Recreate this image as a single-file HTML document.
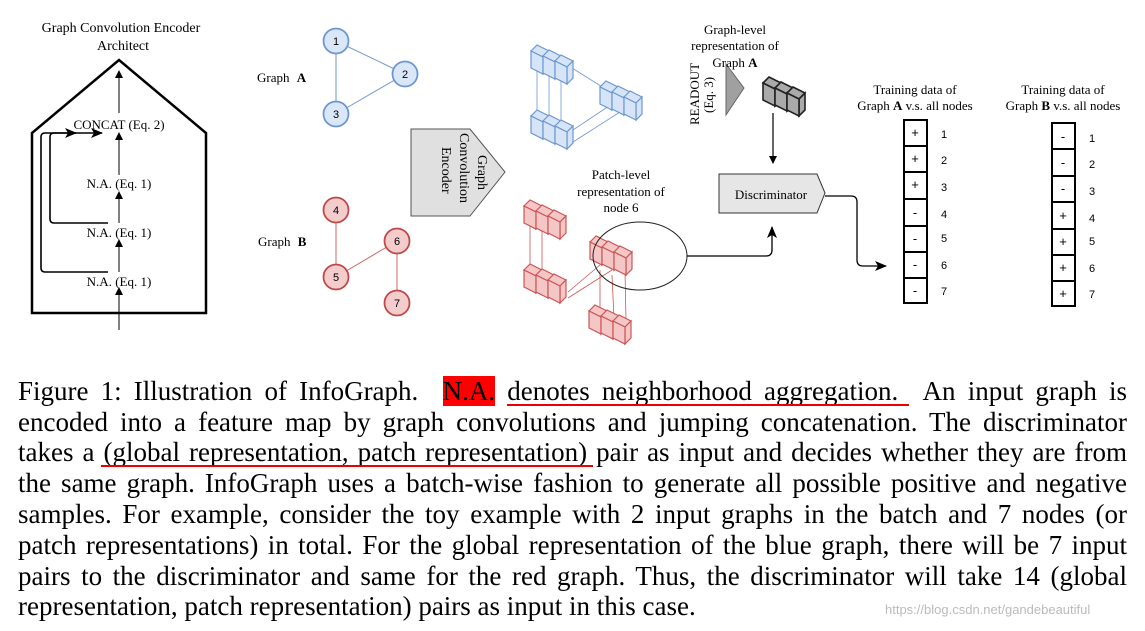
<!DOCTYPE html>
<html><head><meta charset="utf-8"><style>
html,body{margin:0;padding:0;background:#fff;width:1145px;height:631px;overflow:hidden;position:relative}
svg{position:absolute;left:0;top:0}
.cap{position:absolute;left:18px;width:1109px;font-family:"Liberation Serif",serif;font-size:27px;color:#000;text-align:justify;text-align-last:justify;white-space:nowrap;line-height:31px}
.last{text-align-last:left}
.hl{background:#f00}
.ul{position:absolute;height:2px;background:#e00}
.wm{position:absolute;left:885px;top:602px;font-family:"Liberation Sans",sans-serif;font-size:13px;color:#bbb}
</style></head><body>
<svg width="1145" height="631" viewBox="0 0 1145 631" font-family="Liberation Serif, serif">
<defs>
<marker id="ah" markerWidth="8" markerHeight="8" refX="7" refY="4" orient="auto" markerUnits="userSpaceOnUse"><path d="M0,0 L8,4 L0,8 z" fill="#000"/></marker>
<marker id="ah2" markerWidth="12" markerHeight="10" refX="11" refY="5" orient="auto" markerUnits="userSpaceOnUse"><path d="M0,0 L12,5 L0,10 L3,5 z" fill="#000"/></marker>
<g id="cb"><polygon points="0,6 6,0 18,6 12,12"/><polygon points="12,12 18,6 18,23 12,29"/><polygon points="0,6 12,12 12,29 0,23"/></g>
<g id="c3b" fill="#d6e4f7" stroke="#6e97d0" stroke-width="1.2"><use href="#cb"/><use href="#cb" x="12" y="5"/><use href="#cb" x="24" y="10"/></g>
<g id="c3r" fill="#f4c6c6" stroke="#cc5555" stroke-width="1.2"><use href="#cb"/><use href="#cb" x="12" y="5"/><use href="#cb" x="24" y="10"/></g>
<g id="c3k" fill="#aaa" stroke="#222" stroke-width="1.6"><use href="#cb"/><use href="#cb" x="12" y="5"/><use href="#cb" x="24" y="10"/></g>
</defs>
<!-- left architect -->
<text x="121" y="32" font-size="14" text-anchor="middle">Graph Convolution Encoder</text>
<text x="123" y="50" font-size="14" text-anchor="middle">Architect</text>
<polygon points="32,133 119,60 206,133 206,313 32,313" fill="none" stroke="#000" stroke-width="2.5"/>
<g stroke="#000" stroke-width="1" marker-end="url(#ah)">
<line x1="119" y1="330" x2="119" y2="288"/>
<line x1="119" y1="272" x2="119" y2="240"/>
<line x1="119" y1="223" x2="119" y2="192"/>
<line x1="119" y1="175" x2="119" y2="133"/>
<line x1="119" y1="113" x2="119" y2="71"/>
</g>
<text x="119" y="129" font-size="13" text-anchor="middle">CONCAT (Eq. 2)</text>
<text x="119" y="188" font-size="13" text-anchor="middle">N.A. (Eq. 1)</text>
<text x="119" y="237" font-size="13" text-anchor="middle">N.A. (Eq. 1)</text>
<text x="119" y="286" font-size="13" text-anchor="middle">N.A. (Eq. 1)</text>
<path d="M108,223 H54 Q50,223 50,219 V137 Q50,133 54,133 H102" fill="none" stroke="#000" stroke-width="1.6" marker-end="url(#ah2)"/>
<path d="M108,272 H45 Q41,272 41,268 V137 Q41,133 45,133 H76" fill="none" stroke="#000" stroke-width="1.6" marker-end="url(#ah2)"/>
<!-- graphs -->
<text x="257" y="82" font-size="13">Graph <tspan font-weight="bold" dx="4">A</tspan></text>
<text x="258" y="246" font-size="13">Graph <tspan font-weight="bold" dx="4">B</tspan></text>
<g stroke="#6e97d0" stroke-width="1"><line x1="336" y1="41" x2="336" y2="114"/><line x1="336" y1="41" x2="405" y2="74"/><line x1="336" y1="114" x2="405" y2="74"/></g>
<g fill="#dae7f8" stroke="#6e97d0" stroke-width="1.8">
<circle cx="336" cy="41" r="12.5"/><circle cx="405" cy="74" r="12.5"/><circle cx="336" cy="114" r="12.5"/></g>
<g stroke="#cc6666" stroke-width="1"><line x1="336" y1="210" x2="336" y2="277"/><line x1="336" y1="277" x2="397" y2="241"/><line x1="397" y1="241" x2="397" y2="303"/></g>
<g fill="#f4cccc" stroke="#c04848" stroke-width="1.8">
<circle cx="336" cy="210" r="12.5"/><circle cx="336" cy="277" r="12.5"/><circle cx="397" cy="241" r="12.5"/><circle cx="397" cy="303" r="12.5"/></g>
<g font-family="Liberation Sans, sans-serif" font-size="11" text-anchor="middle">
<text x="336" y="45">1</text><text x="405" y="78">2</text><text x="336" y="118">3</text>
<text x="336" y="214">4</text><text x="336" y="281">5</text><text x="397" y="245">6</text><text x="397" y="307">7</text></g>
<!-- encoder -->
<polygon points="411,129 470,129 505,172 470,216 411,216" fill="#e0e0e0" stroke="#555" stroke-width="1"/>
<text transform="translate(478,155) rotate(90)" font-size="14">Graph</text>
<text transform="translate(460,133) rotate(90)" font-size="14">Convolution</text>
<text transform="translate(442,147) rotate(90)" font-size="14">Encoder</text>
<!-- blue cubes -->
<g stroke="#6e97d0" stroke-width="0.8"><line x1="537" y1="70" x2="537" y2="118"/><line x1="549" y1="75" x2="549" y2="122"/><line x1="561" y1="80" x2="561" y2="126"/><line x1="572" y1="68" x2="604" y2="88"/><line x1="573" y1="130" x2="612" y2="104"/><line x1="573" y1="142" x2="620" y2="112"/></g>
<use href="#c3b" x="531" y="45"/>
<use href="#c3b" x="600" y="81"/>
<use href="#c3b" x="531" y="110"/>
<!-- readout -->
<polygon points="726,64 744,88 726,115" fill="#a0a0a0" stroke="#666"/>
<text transform="translate(699,125) rotate(-90)" font-size="13">READOUT</text>
<text transform="translate(713,113) rotate(-90)" font-size="13">(Eq. 3)</text>
<text x="735" y="34" font-size="13" text-anchor="middle">Graph-level</text>
<text x="735" y="50" font-size="13" text-anchor="middle">representation of</text>
<text x="735" y="67" font-size="13" text-anchor="middle">Graph <tspan font-weight="bold">A</tspan></text>
<use href="#c3k" x="763" y="77"/>
<line x1="773" y1="113" x2="773" y2="163" stroke="#000" stroke-width="1.2" marker-end="url(#ah)"/>
<polygon points="719,174 817,174 825,193 817,213 719,213" fill="#e6e6e6" stroke="#333" stroke-width="1"/>
<text x="771" y="199" font-size="13" text-anchor="middle">Discriminator</text>
<path d="M825,196 H851 Q857,196 857,202 V260 Q857,266 863,266 H886" fill="none" stroke="#000" stroke-width="1.3" marker-end="url(#ah2)"/>
<!-- red cubes -->
<text x="621" y="179" font-size="13" text-anchor="middle">Patch-level</text>
<text x="621" y="196" font-size="13" text-anchor="middle">representation of</text>
<text x="621" y="212" font-size="13" text-anchor="middle">node 6</text>
<g stroke="#cc5555" stroke-width="0.8"><line x1="530" y1="225" x2="530" y2="280"/><line x1="542" y1="230" x2="542" y2="284"/><line x1="568" y1="292" x2="600" y2="265"/><line x1="568" y1="298" x2="612" y2="270"/><line x1="600" y1="270" x2="600" y2="315"/><line x1="612" y1="275" x2="614" y2="318"/><line x1="625" y1="272" x2="626" y2="320"/></g>
<use href="#c3r" x="524" y="200"/>
<use href="#c3r" x="524" y="264"/>
<use href="#c3r" x="590" y="236"/>
<use href="#c3r" x="589" y="305"/>
<ellipse cx="640" cy="256" rx="47" ry="34" fill="none" stroke="#222" stroke-width="1"/>
<path d="M687,256 H766 Q772,256 772,250 V227" fill="none" stroke="#000" stroke-width="1.3" marker-end="url(#ah2)"/>
<!-- training data -->
<text x="915" y="94" font-size="13" text-anchor="middle">Training data  of</text>
<text x="915" y="110" font-size="13" text-anchor="middle">Graph <tspan font-weight="bold">A</tspan> v.s. all nodes</text>
<text x="1063" y="94" font-size="13" text-anchor="middle">Training data  of</text>
<text x="1063" y="110" font-size="13" text-anchor="middle">Graph <tspan font-weight="bold">B</tspan> v.s. all nodes</text>
<g fill="#fff" stroke="#000" stroke-width="2">
<rect x="904" y="120" width="23" height="26"/><rect x="904" y="146" width="23" height="26"/><rect x="904" y="172" width="23" height="27"/><rect x="904" y="199" width="23" height="27"/><rect x="904" y="226" width="23" height="26"/><rect x="904" y="252" width="23" height="26"/><rect x="904" y="278" width="23" height="25"/>
<rect x="1052" y="123" width="23" height="26"/><rect x="1052" y="149" width="23" height="27"/><rect x="1052" y="176" width="23" height="26"/><rect x="1052" y="202" width="23" height="27"/><rect x="1052" y="229" width="23" height="26"/><rect x="1052" y="255" width="23" height="26"/><rect x="1052" y="281" width="23" height="25"/></g>
<g font-family="Liberation Sans, sans-serif" font-size="13" text-anchor="middle">
<text x="915" y="137">+</text><text x="915" y="163">+</text><text x="915" y="189">+</text><text x="915" y="217">-</text><text x="915" y="243">-</text><text x="915" y="269">-</text><text x="915" y="295">-</text>
<text x="1063" y="141">-</text><text x="1063" y="167">-</text><text x="1063" y="193">-</text><text x="1063" y="220">+</text><text x="1063" y="246">+</text><text x="1063" y="272">+</text><text x="1063" y="298">+</text></g>
<g font-family="Liberation Sans, sans-serif" font-size="11">
<text x="941" y="138">1</text><text x="941" y="164">2</text><text x="941" y="191">3</text><text x="941" y="218">4</text><text x="941" y="242">5</text><text x="941" y="269">6</text><text x="941" y="295">7</text>
<text x="1089" y="142">1</text><text x="1089" y="168">2</text><text x="1089" y="195">3</text><text x="1089" y="222">4</text><text x="1089" y="245">5</text><text x="1089" y="272">6</text><text x="1089" y="298">7</text></g>
</svg>
<div class="cap" style="top:376px">Figure 1: Illustration of InfoGraph. &nbsp;<span class="hl">N.A.</span> denotes neighborhood aggregation. &nbsp;An input graph is</div>
<div class="cap" style="top:407px">encoded into a feature map by graph convolutions and jumping concatenation. The discriminator</div>
<div class="cap" style="top:437px">takes a (global representation, patch representation) pair as input and decides whether they are from</div>
<div class="cap" style="top:468px">the same graph. InfoGraph uses a batch-wise fashion to generate all possible positive and negative</div>
<div class="cap" style="top:499px">samples. For example, consider the toy example with 2 input graphs in the batch and 7 nodes (or</div>
<div class="cap" style="top:530px">patch representations) in total. For the global representation of the blue graph, there will be 7 input</div>
<div class="cap" style="top:561px">pairs to the discriminator and same for the red graph. Thus, the discriminator will take 14 (global</div>
<div class="cap last" style="top:591px">representation, patch representation) pairs as input in this case.</div>
<div class="ul" style="left:507px;top:404px;width:402px"></div>
<div class="ul" style="left:101px;top:465px;width:492px"></div>
<div class="wm">https://blog.csdn.net/gandebeautiful</div>
</body></html>
